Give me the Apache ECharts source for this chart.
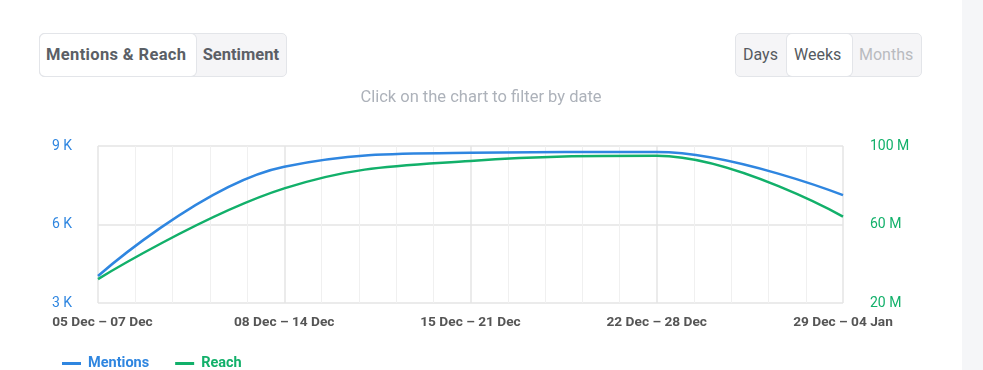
<!DOCTYPE html>
<html>
<head>
<meta charset="utf-8">
<script src="https://cdn.jsdelivr.net/npm/echarts@6/dist/echarts.min.js"></script>
<style>
  html, body { margin:0; padding:0; background:#fff; font-family: Roboto, "Noto Sans", sans-serif; }
  #wrap { position:relative; width:983px; height:370px; overflow:hidden; }
  #chart { position:absolute; left:0; top:0; width:983px; height:370px; }
  #side { position:absolute; left:962px; top:0; width:21px; height:370px; background:#f5f6f8; }
  .grp { position:absolute; top:33px; height:44px; display:flex; border:1px solid #e3e5e9; border-radius:5px; background:#f5f5f7; box-sizing:border-box; }
  .btn { height:42px; line-height:42px; font-size:16px; color:#555a60; padding:0 7px; box-sizing:border-box; white-space:nowrap; }
  .btn.bold { font-weight:bold; font-size:16.5px; color:#5b5f66; }
  .btn.wide { letter-spacing:0.35px; padding-left:6px; }
  .btn.active { background:#fff; border-radius:5px; box-shadow:0 0 0 1px #e3e5e9; }
  .btn.dis { color:#b9bbbf; }
  #title { position:absolute; left:0; width:962px; top:87px; text-align:center; font-size:16.5px; color:#adb2ba; }
</style>
</head>
<body>
<div id="wrap">
  <div id="chart"></div>
  <div id="side"></div>
  <div class="grp" style="left:39px;width:248px;">
    <div class="btn bold wide active" style="width:157px;">Mentions &amp; Reach</div>
    <div class="btn bold" style="width:91px;">Sentiment</div>
  </div>
  <div class="grp" style="left:735px;width:187px;">
    <div class="btn" style="width:51px;">Days</div>
    <div class="btn active" style="width:65px;">Weeks</div>
    <div class="btn dis" style="width:69px;">Months</div>
  </div>
  <div id="title">Click on the chart to filter by date</div>
</div>
<script>
const categories = ['05 Dec \u2013 07 Dec', '08 Dec \u2013 14 Dec', '15 Dec \u2013 21 Dec', '22 Dec \u2013 28 Dec', '29 Dec \u2013 04 Jan'];
const mentions = [4030, 8210, 8740, 8770, 7120];
const reach = [32200000, 78400000, 92400000, 95000000, 64000000];
const leftTicks = { min: 3000, max: 9000, interval: 3000 };
const rightTicks = { min: 20000000, max: 100000000, interval: 40000000 };

const BLUE = '#2f86e0';
const GREEN = '#12b06a';

const chart = echarts.init(document.getElementById('chart'), null, { renderer: 'canvas' });
const xLabelStyle = { color: '#555', fontSize: 13.7, fontWeight: 'bold', fontFamily: 'Roboto' };
chart.setOption({
  animation: false,
  textStyle: { fontFamily: 'Roboto' },
  grid: { left: 98, right: 140, top: 146, bottom: 67, containLabel: false },
  legend: {
    left: 57, top: 351,
    itemWidth: 19, itemHeight: 3, itemGap: 26,
    icon: 'rect',
    data: [
      { name: 'Mentions', textStyle: { color: BLUE } },
      { name: 'Reach', textStyle: { color: GREEN } }
    ],
    textStyle: { fontSize: 14.5, fontWeight: 'bold', padding: [0, 0, 0, 2] },
    selectedMode: false
  },
  xAxis: {
    type: 'value', min: 0, max: categories.length - 1, interval: 1,
    axisLine: { show: false }, axisTick: { show: false },
    axisLabel: Object.assign({
      formatter: v => v === 0 ? '{f|' + categories[v] + '}' : (categories[v] || ''),
      margin: 13,
      rich: { f: Object.assign({ padding: [0, 0, 0, 9] }, xLabelStyle) }
    }, xLabelStyle),
    splitLine: { show: true, lineStyle: { color: '#e4e4e4', width: 1.5 } },
    minorTick: { show: false, splitNumber: 5 },
    minorSplitLine: { show: true, lineStyle: { color: '#f0f0f0', width: 1 } }
  },
  yAxis: [
    {
      type: 'value', min: leftTicks.min, max: leftTicks.max, interval: leftTicks.interval,
      axisLine: { show: false }, axisTick: { show: false },
      axisLabel: { formatter: v => (v / 1000) + ' K', color: BLUE, fontSize: 14, margin: 26 },
      splitLine: { lineStyle: { color: '#e4e4e4', width: 1.5 } }
    },
    {
      type: 'value', min: rightTicks.min, max: rightTicks.max, interval: rightTicks.interval,
      position: 'right',
      axisLine: { show: false }, axisTick: { show: false },
      axisLabel: { formatter: v => (v / 1000000) + ' M', color: GREEN, fontSize: 14, margin: 27 },
      splitLine: { show: false }
    }
  ],
  series: [
    {
      name: 'Mentions', type: 'line', yAxisIndex: 0,
      data: mentions.map((v, i) => [i, v]),
      smooth: 0.4, showSymbol: false,
      lineStyle: { color: BLUE, width: 2.5 }, itemStyle: { color: BLUE }
    },
    {
      name: 'Reach', type: 'line', yAxisIndex: 1,
      data: reach.map((v, i) => [i, v]),
      smooth: 0.4, showSymbol: false,
      lineStyle: { color: GREEN, width: 2.5 }, itemStyle: { color: GREEN }
    }
  ]
});
</script>
</body>
</html>
